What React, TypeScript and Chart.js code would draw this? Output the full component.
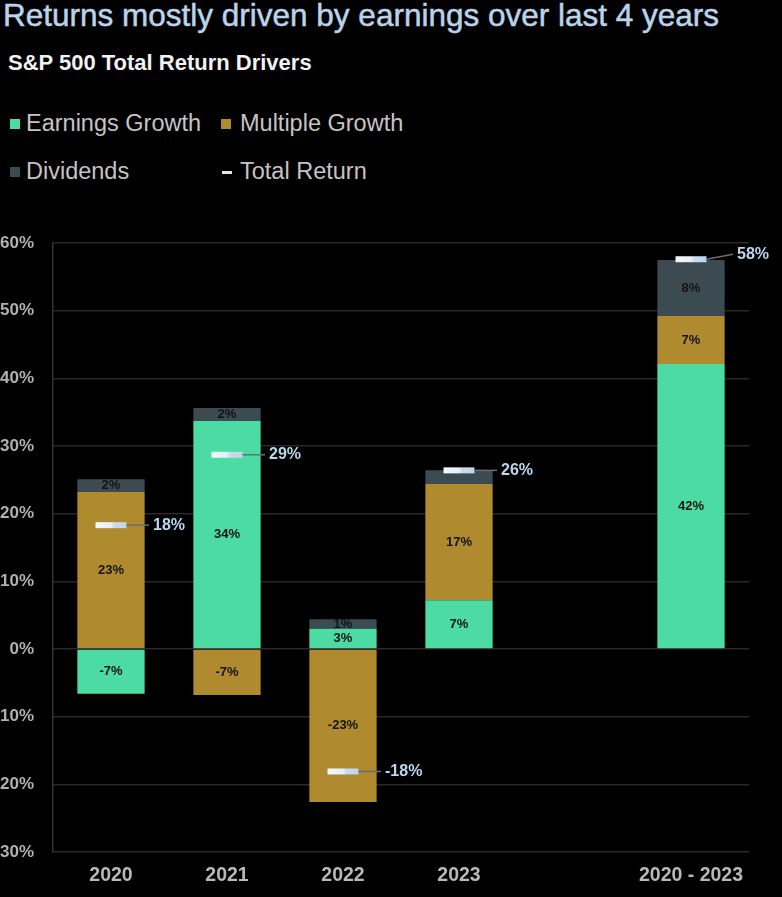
import React, { useEffect, useRef } from "react";
import { Chart, registerables } from "chart.js";

Chart.register(...registerables);

const categories = ["2020", "2021", "2022", "2023", "", "2020 - 2023"];
const earningsGrowth = [-6.6, 33.7, 3.0, 7.2, null, 42.1];
const multipleGrowth = [23.2, -6.8, -22.6, 17.2, null, 7.1];
const dividends = [1.9, 1.9, 1.4, 2.0, null, 8.3];
const totalReturn = [18.3, 28.7, -18.1, 26.4, null, 57.6];
const yMin = -30;
const yMax = 60;
const yStep = 10;

const FONT = '"Liberation Sans", Arial, sans-serif';
const GREEN = "#4cdba2";
const GOLD = "#af8a2e";
const SLATE = "#3c4a52";
const MARKER = "#d8e8f6";
const TOTAL_TXT = "#bcd6ee";

const labelPlugin = {
  id: "segLabels",
  afterDatasetDraw(chart: any, args: any) {
    const meta = args.meta;
    if (meta.type !== "bar") return;
    const ds = chart.data.datasets[args.index];
    const totalMeta = chart.getDatasetMeta(3);
    const ctx = chart.ctx;
    ctx.save();
    ctx.font = `bold 13px ${FONT}`;
    ctx.fillStyle = "#141414";
    ctx.textAlign = "center";
    ctx.textBaseline = "middle";
    meta.data.forEach((el: any, i: number) => {
      const v = ds.data[i];
      if (v == null) return;
      const { x, y, base } = el.getProps(["x", "y", "base"], true);
      const cy = (y + base) / 2;
      const tp = totalMeta.data[i];
      if (tp && totalReturn[i] != null && Math.abs(tp.y - cy) < 10) return;
      ctx.fillText(Math.round(v) + "%", x, cy);
    });
    ctx.restore();
  },
  afterDatasetsDraw(chart: any) {
    const meta = chart.getDatasetMeta(3);
    const ctx = chart.ctx;
    const last = totalReturn.length - 1;
    ctx.save();
    ctx.font = `bold 16px ${FONT}`;
    ctx.textBaseline = "middle";
    ctx.textAlign = "left";
    meta.data.forEach((pt: any, i: number) => {
      const v = totalReturn[i];
      if (v == null) return;
      const { x, y } = pt.getProps(["x", "y"], true);
      const lift = i === last ? 5 : 0;
      const gap = i === last ? 46 : 42;
      ctx.strokeStyle = "#6e6e6e";
      ctx.lineWidth = 1.5;
      ctx.beginPath();
      ctx.moveTo(x + 15.5, y);
      ctx.lineTo(x + gap - 4, y - lift);
      ctx.stroke();
      ctx.fillStyle = TOTAL_TXT;
      ctx.fillText(Math.round(v) + "%", x + gap, y - lift);
    });
    ctx.restore();
  },
};

const markerColor = (c: any) => {
  const sx = c.chart && c.chart.scales ? c.chart.scales.x : null;
  if (!sx || c.dataIndex == null) return MARKER;
  const x = sx.getPixelForValue(c.dataIndex);
  if (!isFinite(x)) return MARKER;
  const g = c.chart.ctx.createLinearGradient(x - 15, 0, x + 15, 0);
  g.addColorStop(0, "#f2f8ff");
  g.addColorStop(0.5, "#e4f0fb");
  g.addColorStop(0.6, "#cadded");
  g.addColorStop(1, "#c0d4e6");
  return g;
};

function ChartView() {
  const ref = useRef<HTMLCanvasElement | null>(null);
  useEffect(() => {
    if (!ref.current) return;
    const chart = new Chart(ref.current, {
      type: "bar",
      data: {
        labels: categories,
        datasets: [
          { label: "Earnings Growth", data: earningsGrowth, backgroundColor: GREEN, order: 1, barPercentage: 0.58, categoryPercentage: 1 },
          { label: "Multiple Growth", data: multipleGrowth, backgroundColor: GOLD, order: 1, barPercentage: 0.58, categoryPercentage: 1 },
          { label: "Dividends", data: dividends, backgroundColor: SLATE, order: 1, barPercentage: 0.58, categoryPercentage: 1 },
          {
            type: "line",
            label: "Total Return",
            data: totalReturn,
            showLine: false,
            stack: "total",
            order: 0,
            pointStyle: "line",
            pointRadius: 15.5,
            pointHoverRadius: 15.5,
            pointBorderWidth: 6,
            pointHoverBorderWidth: 6,
            pointBorderColor: markerColor,
            borderColor: MARKER,
            backgroundColor: MARKER,
            clip: false,
          } as any,
        ],
      },
      options: {
        animation: false,
        responsive: true,
        maintainAspectRatio: false,
        events: [],
        layout: { padding: { top: 43, right: 33, left: 0, bottom: 0 } },
        plugins: { legend: { display: false }, tooltip: { enabled: false }, title: { display: false } },
        scales: {
          x: {
            stacked: true,
            grid: { display: false, drawTicks: false },
            border: { display: false },
            ticks: { color: "#b8b8b8", font: { family: FONT, size: 19.5, weight: "bold" }, padding: 12, maxRotation: 0, autoSkip: false },
            afterFit: (s: any) => { s.height = 45; },
          },
          y: {
            stacked: true,
            min: yMin,
            max: yMax,
            ticks: {
              stepSize: yStep,
              color: "#b0b0b0",
              font: { family: FONT, size: 17, weight: "bold" },
              padding: 19,
              callback: (v: any) => v + "%",
            },
            grid: { color: "#292929", lineWidth: 1.5, drawTicks: false },
            border: { display: true, color: "#343434", width: 1.5 },
            afterFit: (s: any) => { s.width = 53; },
          },
        },
      },
      plugins: [labelPlugin],
    } as any);
    return () => chart.destroy();
  }, []);
  return <canvas ref={ref} />;
}

export default function App() {
  useEffect(() => {
    document.body.style.background = "#000";
  }, []);
  const legendText: React.CSSProperties = {
    position: "absolute",
    fontFamily: FONT,
    fontSize: 23.5,
    lineHeight: "23.5px",
    color: "#c4c4c4",
    whiteSpace: "nowrap",
  };
  const sq = (left: number, top: number, color: string): React.CSSProperties => ({
    position: "absolute",
    left,
    top,
    width: 10,
    height: 10,
    background: color,
  });
  return (
    <div style={{ position: "fixed", left: 0, top: 0, width: 782, height: 897, background: "#000", overflow: "hidden" }}>
      <div style={{ position: "absolute", left: 3, top: 0, fontFamily: FONT, fontSize: 31.5, lineHeight: "31.5px", color: "#bad3ea", whiteSpace: "nowrap", WebkitTextStroke: "0.5px #bad3ea" }}>
        Returns mostly driven by earnings over last 4 years
      </div>
      <div style={{ position: "absolute", left: 8, top: 52, fontFamily: FONT, fontSize: 22, lineHeight: "22px", fontWeight: "bold", color: "#f2f2f2", whiteSpace: "nowrap" }}>
        S&amp;P 500 Total Return Drivers
      </div>
      <div style={sq(10, 119, GREEN)} />
      <div style={{ ...legendText, left: 26, top: 112 }}>Earnings Growth</div>
      <div style={sq(221, 119, GOLD)} />
      <div style={{ ...legendText, left: 240, top: 112 }}>Multiple Growth</div>
      <div style={sq(10, 167, SLATE)} />
      <div style={{ ...legendText, left: 26, top: 160 }}>Dividends</div>
      <div style={{ position: "absolute", left: 222, top: 171, width: 10, height: 2.5, background: MARKER }} />
      <div style={{ ...legendText, left: 240, top: 160 }}>Total Return</div>
      <div style={{ position: "absolute", left: 0, top: 200, width: 782, height: 697 }}>
        <ChartView />
      </div>
    </div>
  );
}
